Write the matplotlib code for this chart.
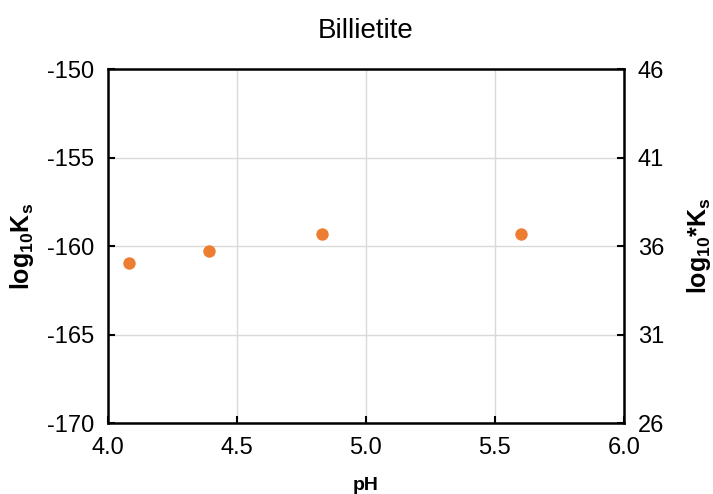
import matplotlib
matplotlib.use("Agg")
import matplotlib.pyplot as plt

plt.rcParams['font.family'] = ['Liberation Sans', 'DejaVu Sans']
plt.rcParams['axes.unicode_minus'] = False
plt.rcParams['mathtext.fontset'] = 'custom'
plt.rcParams['mathtext.rm'] = 'Liberation Sans'
plt.rcParams['mathtext.bf'] = 'Liberation Sans:bold'
plt.rcParams['mathtext.default'] = 'bf'

ph = [4.08, 4.39, 4.83, 5.60]
log_ks = [-160.94, -160.30, -159.32, -159.30]
title = "Billietite"
offset = 196  # right axis = left axis + offset

fig = plt.figure(figsize=(7.13, 4.94), dpi=100)
ax = fig.add_axes([0.1515, 0.1437, 0.7235, 0.7166])

ax.scatter(ph, log_ks, s=80, color='#ED7D31', zorder=3, linewidths=0)
ax.set_xlim(4.0, 6.0)
ax.set_ylim(-170, -150)
ax.set_xticks([4.0, 4.5, 5.0, 5.5, 6.0])
ax.set_xticklabels(['4.0', '4.5', '5.0', '5.5', '6.0'])
ax.set_yticks([-170, -165, -160, -155, -150])
ax.grid(True, color='#D9D9D9', linewidth=1)
ax.set_axisbelow(True)
ax.tick_params(axis='y', direction='in', length=5, width=1.5, labelsize=17, pad=10)
ax.tick_params(axis='x', direction='in', length=5, width=1.5, labelsize=17, pad=10)
for s in ax.spines.values():
    s.set_linewidth(1.8)

ax.set_ylabel(r'log$_{10}$K$_{s}$', fontsize=18, fontweight='bold', labelpad=8)
ax.set_xlabel('pH', fontsize=14, fontweight='bold', labelpad=13)
ax.set_title(title, fontsize=20, pad=22)

ax2 = ax.twinx()
ax2.set_ylim(-170 + offset, -150 + offset)
ax2.set_yticks([26, 31, 36, 41, 46])
ax2.tick_params(axis='y', direction='in', length=5, width=1.5, labelsize=17, pad=10)
for s in ax2.spines.values():
    s.set_visible(False)
ax2.set_ylabel(r'log$_{10}$*K$_{s}$', fontsize=18, fontweight='bold', labelpad=15)

fig.savefig('out.png', dpi=100)
